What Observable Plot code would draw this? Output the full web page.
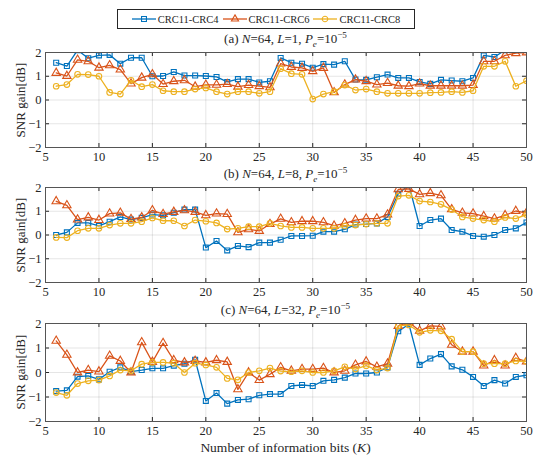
<!DOCTYPE html>
<html><head><meta charset="utf-8">
<script src="https://cdn.jsdelivr.net/npm/d3@7"></script>
<script src="https://cdn.jsdelivr.net/npm/@observablehq/plot@0.6"></script>
<style>
body{margin:0;background:#fff;font-family:"Liberation Serif","Times New Roman","DejaVu Serif",serif;color:#262626;}
#wrap{position:relative;width:540px;height:460px;overflow:hidden;}
.abs{position:absolute;}
.title{left:45px;width:481px;text-align:center;font-size:13px;line-height:14px;white-space:nowrap;}
.ylab{width:120px;height:16px;line-height:16px;text-align:center;font-size:13px;transform:rotate(-90deg);white-space:nowrap;}
#legend{left:117px;top:9px;width:296px;height:18px;border:1px solid #262626;background:#fff;display:flex;align-items:center;justify-content:center;font-size:10.5px;gap:4px;}
#legend span.item{display:flex;align-items:center;gap:2px;}
sup,sub{font-size:70%;line-height:0;}
svg text{font-family:"Liberation Serif","Times New Roman","DejaVu Serif",serif;}
</style></head><body><div id="wrap"></div>
<script>
// Categories: number of information bits K
const K = [6,7,8,9,10,11,12,13,14,15,16,17,18,19,20,21,22,23,24,25,26,27,28,29,30,31,32,33,34,35,36,37,38,39,40,41,42,43,44,45,46,47,48,49,50];
const seriesNames = ["CRC11-CRC4", "CRC11-CRC6", "CRC11-CRC8"];
const seriesColors = ["#0072BD", "#D95319", "#EDB120"];
const seriesSymbols = ["square", "triangle", "circle"];
const xTicks = [5,10,15,20,25,30,35,40,45,50];
const yTicks = [-2,-1,0,1,2];

// (a) N=64, L=1
const a_crc4 = [1.57,1.43,2.1,1.76,1.88,1.9,1.53,1.78,1.78,1.0, 1.01,1.18,1.03,1.03,1.01,0.97,0.76,0.88,0.88,0.74, 0.79,1.77,1.57,1.53,1.36,1.51,1.49,1.63,0.86,0.85, 0.96,1.07,0.93,0.93,0.76,0.68,0.85,0.82,0.79,0.93, 1.88,1.81,2.1,2.2,2.3];
const a_crc6 = [1.14,1.01,1.69,1.63,1.36,1.46,1.28,0.69,0.94,1.08, 0.67,0.79,0.83,0.56,0.64,0.64,0.67,0.56,0.63,0.58, 0.53,1.53,1.39,1.35,1.21,1.35,0.32,0.65,0.86,0.79, 0.65,0.71,0.6,0.58,0.69,0.6,0.6,0.6,0.6,0.63, 1.63,1.63,1.88,1.97,2.0];
const a_crc8 = [0.58,0.65,1.08,1.07,1.0,0.32,0.25,0.83,0.56,0.65, 0.39,0.35,0.35,0.46,0.51,0.35,0.25,0.35,0.35,0.28, 0.35,1.32,1.11,1.08,0.04,0.25,0.35,0.63,0.42,0.46, 0.35,0.28,0.28,0.28,0.28,0.31,0.32,0.35,0.32,0.39, 1.42,1.42,1.63,0.58,0.81];
// (b) N=64, L=8
const b_crc4 = [0.0,0.11,0.51,0.51,0.38,0.56,0.76,0.65,0.72,0.86, 0.83,0.94,1.07,1.07,-0.53,-0.25,-0.65,-0.46,-0.51,-0.32, -0.32,-0.2,-0.04,-0.04,-0.03,0.14,0.14,0.24,0.44,0.46, 0.49,0.76,1.74,2.1,0.38,0.63,0.69,0.21,0.14,-0.04, -0.07,0.0,0.21,0.28,0.53];
const b_crc6 = [1.42,1.25,0.65,0.74,0.63,0.90,0.93,0.67,0.74,1.04, 0.88,0.97,1.04,0.97,0.83,0.90,0.88,0.11,0.24,0.17, 0.46,0.68,0.53,0.58,0.58,0.53,0.39,0.49,0.63,0.69, 0.69,0.86,1.92,1.94,1.71,1.76,1.67,1.08,0.93,0.90, 0.79,0.69,0.83,1.01,0.93];
const b_crc8 = [-0.1,-0.11,0.18,0.28,0.28,0.42,0.49,0.49,0.56,0.72, 0.6,0.6,0.38,0.63,0.58,0.51,0.25,0.28,0.35,0.35, 0.49,0.38,0.32,0.32,0.28,0.28,0.28,0.38,0.42,0.46, 0.49,0.49,1.64,1.67,1.43,1.39,1.29,1.07,0.76,0.69, 0.63,0.56,0.74,0.69,0.86];
// (c) N=64, L=32
const c_crc4 = [-0.76,-0.73,-0.17,-0.14,-0.28,0.03,0.21,0.04,0.1,0.17, 0.17,0.28,0.36,0.52,-1.16,-0.84,-1.27,-1.12,-1.09,-0.93, -0.88,-0.88,-0.55,-0.51,-0.55,-0.34,-0.3,-0.21,-0.04,-0.04, 0.0,0.21,1.68,1.97,0.31,0.57,0.75,0.25,0.11,-0.18, -0.55,-0.31,-0.45,-0.18,-0.11];
const c_crc6 = [1.29,0.72,0.0,0.1,0.04,0.68,0.47,0.0,1.23,0.43, 1.2,0.5,0.41,0.47,0.41,0.5,0.43,-0.69,0.0,-0.31, -0.07,0.21,0.07,0.14,0.14,0.18,0.0,0.07,0.31,0.45, 0.23,0.36,1.9,2.05,1.7,1.9,1.88,1.13,0.85,0.85, 0.28,0.5,0.28,0.59,0.45];
const c_crc8 = [-0.82,-0.93,-0.45,-0.34,-0.31,-0.14,0.1,0.07,0.34,0.41, 0.41,0.38,0.0,0.38,0.31,0.21,-0.24,-0.3,0.0,0.07, 0.18,0.06,0.03,0.07,0.0,0.0,0.07,0.23,0.14,0.28, 0.1,0.18,1.9,1.94,1.64,1.72,1.7,1.36,0.85,0.85, 0.36,0.36,0.36,0.47,0.45];

const wrap = document.getElementById("wrap");

// Legend
const legend = document.createElement("div");
legend.id = "legend"; legend.className = "abs";
seriesNames.forEach((n, i) => {
  const it = document.createElement("span"); it.className = "item";
  const sym = d3.symbol(i === 0 ? d3.symbolSquare : i === 1 ? d3.symbolTriangle : d3.symbolCircle, i === 1 ? 22 : 24)();
  it.innerHTML = `<svg width="24" height="10"><line x1="0" x2="24" y1="5" y2="5" stroke="${seriesColors[i]}" stroke-width="1.3"/><path transform="translate(12,5)" d="${sym}" fill="none" stroke="${seriesColors[i]}" stroke-width="1.1"/></svg><span>${n}</span>`;
  legend.appendChild(it);
});
wrap.appendChild(legend);

const PANELS = [
  {title: `(a) <i>N</i>=64, <i>L</i>=1, <i>P</i><sub><i>e</i></sub>=10<sup>−5</sup>`, titleTop: 32, top: 46, ph: 95, series: [a_crc4, a_crc6, a_crc8]},
  {title: `(b) <i>N</i>=64, <i>L</i>=8, <i>P</i><sub><i>e</i></sub>=10<sup>−5</sup>`, titleTop: 167, top: 181, ph: 95, series: [b_crc4, b_crc6, b_crc8]},
  {title: `(c) <i>N</i>=64, <i>L</i>=32, <i>P</i><sub><i>e</i></sub>=10<sup>−5</sup>`, titleTop: 303, top: 317, ph: 98, series: [c_crc4, c_crc6, c_crc8]}
];

const mL = 45, mR = 14, mT = 6, mB = 20, W = 540;
const pw = W - mL - mR;
const FONT = "'Liberation Serif', 'Times New Roman', 'DejaVu Serif', serif";

PANELS.forEach(P => {
  const t = document.createElement("div");
  t.className = "abs title"; t.style.top = P.titleTop + "px"; t.innerHTML = P.title;
  wrap.appendChild(t);

  const yl = document.createElement("div");
  yl.className = "abs ylab"; yl.textContent = "SNR gain[dB]";
  yl.style.left = (21 - 60) + "px"; yl.style.top = (P.top + mT + P.ph / 2 - 8) + "px";
  wrap.appendChild(yl);

  const marks = [
    Plot.gridX(xTicks, {stroke: "#000", strokeOpacity: 0.1}),
    Plot.gridY(yTicks, {stroke: "#000", strokeOpacity: 0.1}),
    Plot.axisX(xTicks, {tickSize: 0, tickPadding: 5, label: null, fontSize: 12.5}),
    Plot.axisY(yTicks, {tickSize: 0, tickPadding: 4, label: null, fontSize: 12.5}),
    Plot.tickX(xTicks, {x: d => d, stroke: "#262626", insetTop: P.ph - 4}),
    Plot.tickX(xTicks, {x: d => d, stroke: "#262626", insetBottom: P.ph - 4}),
    Plot.tickY(yTicks, {y: d => d, stroke: "#262626", insetRight: pw - 4}),
    Plot.tickY(yTicks, {y: d => d, stroke: "#262626", insetLeft: pw - 4})
  ];
  P.series.forEach((vals, si) => {
    const data = vals.map((v, i) => ({K: K[i], v}));
    marks.push(Plot.line(data, {x: "K", y: "v", stroke: seriesColors[si], strokeWidth: 1.3, clip: true}));
    marks.push(Plot.dot(data, {x: "K", y: "v", symbol: seriesSymbols[si], r: si === 1 ? 3.1 : 2.8, stroke: seriesColors[si], strokeWidth: 1.1, fill: "none", clip: true}));
  });
  marks.push(Plot.frame({stroke: "#555", strokeWidth: 1}));

  const svg = Plot.plot({
    width: W, height: mT + P.ph + mB,
    marginLeft: mL, marginRight: mR, marginTop: mT, marginBottom: mB,
    style: {fontFamily: FONT, fontSize: "12.5px", color: "#262626", background: "transparent", overflow: "visible"},
    x: {domain: [5, 50]},
    y: {domain: [-2, 2]},
    marks
  });
  svg.setAttribute("font-family", FONT);
  svg.style.position = "absolute";
  svg.style.left = "0px";
  svg.style.top = P.top + "px";
  wrap.appendChild(svg);
});

const xl = document.createElement("div");
xl.className = "abs title"; xl.style.top = "441px"; xl.style.fontSize = "13.5px";
xl.innerHTML = "Number of information bits (<i>K</i>)";
wrap.appendChild(xl);
</script>
</body></html>
